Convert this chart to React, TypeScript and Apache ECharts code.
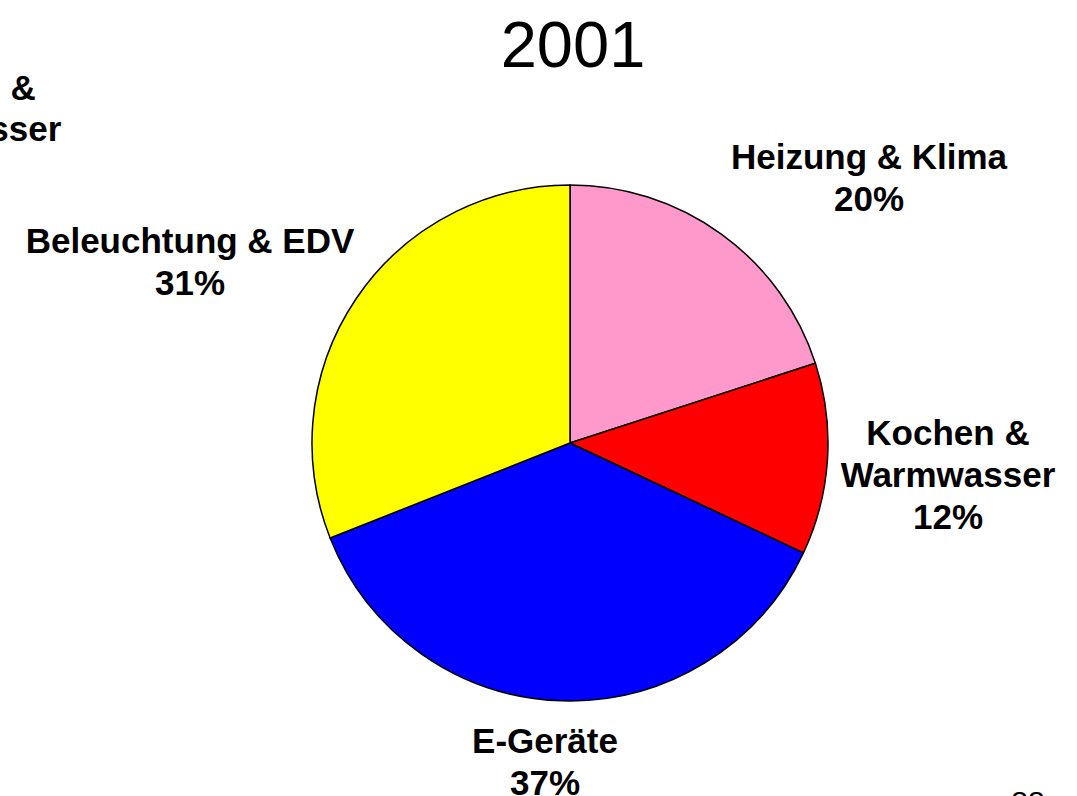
import React, { useEffect, useRef } from "react";
import * as echarts from "echarts";

const title = "2001";
const categories = ["Heizung & Klima", "Kochen &\nWarmwasser", "E-Geräte", "Beleuchtung & EDV"];
const values = [20, 12, 37, 31];
const colors = ["#FF99CC", "#FF0000", "#0000FF", "#FFFF00"];
const labelPos = [
  [869, 177],
  [948, 474],
  [545, 761],
  [190, 261],
];
const strayLabel = "Kochen &\nWarmwasser";
const pageNumber = "88";

const FONT = 'Arial, "Liberation Sans", Helvetica, sans-serif';
const LABEL_SIZE = 35;

export default function App() {
  const ref = useRef<HTMLDivElement>(null);
  useEffect(() => {
    document.body.style.margin = "0";
    const chart = echarts.init(ref.current!, null, { renderer: "svg" });
    chart.setOption({
      animation: false,
      backgroundColor: "#ffffff",
      title: {
        text: title,
        left: 568,
        top: 39,
        textAlign: "center",
        textVerticalAlign: "middle",
        textStyle: { fontFamily: FONT, fontSize: 65, fontWeight: "normal", color: "#000" },
      },
      graphic: [
        {
          type: "text",
          x: -46,
          y: 108,
          style: {
            text: strayLabel,
            fontFamily: FONT,
            fontSize: LABEL_SIZE,
            fontWeight: "bold",
            lineHeight: 41,
            align: "center",
            verticalAlign: "middle",
            fill: "#000",
          },
        },
        {
          type: "text",
          x: 1028,
          y: 786,
          style: {
            text: pageNumber,
            fontFamily: FONT,
            fontSize: 30,
            align: "center",
            verticalAlign: "top",
            fill: "#000",
          },
        },
      ],
      series: [
        {
          type: "pie",
          center: [570, 443],
          radius: 258,
          startAngle: 90,
          clockwise: true,
          data: categories.map((c, i) => ({
            name: c,
            value: values[i],
            itemStyle: { color: colors[i] },
          })),
          itemStyle: { borderColor: "#000", borderWidth: 1.5 },
          emphasis: { disabled: true },
          label: {
            show: true,
            formatter: (p: any) => `${p.name}\n${p.value}%`,
            fontFamily: FONT,
            fontSize: LABEL_SIZE,
            fontWeight: "bold",
            lineHeight: 42,
            color: "#000",
            align: "center",
            overflow: "none",
            width: 400,
          },
          labelLine: { show: false },
          labelLayout: (p: any) => ({
            x: labelPos[p.dataIndex][0],
            y: labelPos[p.dataIndex][1],
            align: "center",
            verticalAlign: "middle",
          }),
        },
      ],
    });
    return () => chart.dispose();
  }, []);
  return <div ref={ref} style={{ width: 1077, height: 796 }} />;
}
